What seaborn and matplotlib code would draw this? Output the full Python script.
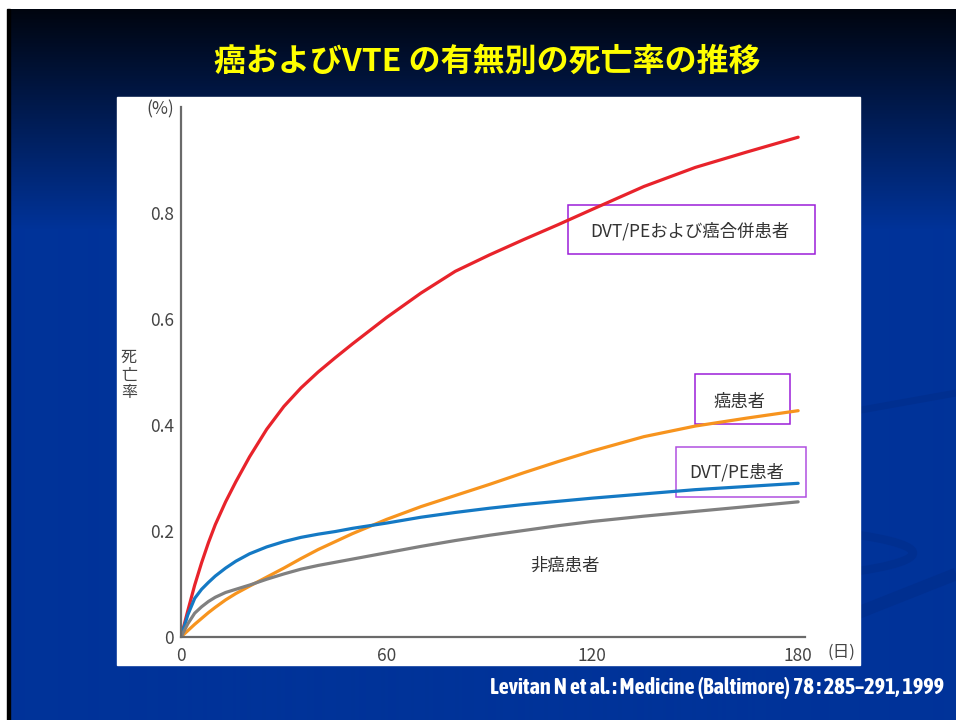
import numpy as np
import pandas as pd
import seaborn as sns
import matplotlib.pyplot as plt
from matplotlib import font_manager
from matplotlib.patches import Rectangle, Ellipse

# days after diagnosis and mortality (%)
days = [0, 2, 4, 6, 8, 10, 13, 16, 20, 25, 30, 35, 40, 45, 50, 60, 70, 80, 90,
        100, 110, 120, 135, 150, 165, 180]
vte_cancer = [0, 0.05, 0.098, 0.14, 0.178, 0.212, 0.255, 0.293, 0.34, 0.392, 0.435,
              0.47, 0.50, 0.527, 0.553, 0.603, 0.649, 0.69, 0.721, 0.75, 0.778,
              0.807, 0.85, 0.886, 0.915, 0.943]
cancer = [0, 0.012, 0.024, 0.035, 0.046, 0.056, 0.07, 0.082, 0.096, 0.113, 0.13,
          0.148, 0.165, 0.18, 0.195, 0.222, 0.246, 0.267, 0.288, 0.31, 0.331,
          0.351, 0.378, 0.398, 0.413, 0.427]
vte = [0, 0.042, 0.073, 0.09, 0.103, 0.115, 0.13, 0.143, 0.157, 0.17, 0.18,
       0.188, 0.194, 0.199, 0.205, 0.215, 0.226, 0.235, 0.243, 0.25, 0.256,
       0.262, 0.27, 0.278, 0.284, 0.29]
no_cancer = [0, 0.025, 0.045, 0.057, 0.067, 0.075, 0.084, 0.09, 0.098, 0.109, 0.119,
             0.128, 0.135, 0.141, 0.147, 0.159, 0.171, 0.182, 0.192, 0.201, 0.21,
             0.218, 0.228, 0.237, 0.246, 0.255]

groups = ["DVT/PEおよび癌合併患者", "癌患者", "DVT/PE患者", "非癌患者"]
colors = {"DVT/PEおよび癌合併患者": "#e8232b", "癌患者": "#f7941e",
          "DVT/PE患者": "#1479c4", "非癌患者": "#808080"}

df = pd.concat([
    pd.DataFrame({"day": days, "rate": v, "group": g})
    for g, v in zip(groups, [vte_cancer, cancer, vte, no_cancer])
])

sns.set_style("white")
plt.rcParams["font.family"] = ["Noto Sans CJK JP", "DejaVu Sans"]

# narrow bold face for the citation line
narrow_bold = sorted({f.name for f in font_manager.fontManager.ttflist
                      if ("Narrow" in f.name or "Condensed" in f.name)
                      and f.weight in ("bold", 700, "heavy", 800)})
if "Liberation Sans Narrow" in narrow_bold:
    cite_font, cite_size = ["Liberation Sans Narrow", "DejaVu Sans"], 15
elif narrow_bold:
    cite_font, cite_size = [narrow_bold[0], "DejaVu Sans"], 16
else:
    cite_font, cite_size = ["Liberation Sans", "DejaVu Sans"], 11.2

W, H = 956, 720
fig = plt.figure(figsize=(W / 100, H / 100), dpi=100, facecolor="white")

# slide background (pixel coordinates)
bg = fig.add_axes([0, 0, 1, 1], zorder=-10)
bg.set_xlim(0, W)
bg.set_ylim(H, 0)
bg.axis("off")
rows = np.arange(9, H)
t = np.clip((rows - 9) / 220.0, 0, 1)[:, None]
top = np.array([0.0, 0.02, 0.06])
bot = np.array([0.0, 0.2, 0.6])
grad = (top * (1 - t) + bot * t)[:, None, :]
bg.imshow(grad, extent=(7, W, H, 9), aspect="auto", interpolation="bilinear")
bg.add_patch(Rectangle((7, 9), 3, H - 9, color="black"))
# faint swooshes on the right
sw = "#002f90"
bg.add_patch(Ellipse((600, 553), 626, 64, fill=False, ec=sw, lw=6))
bg.plot([850, 956], [412, 393], color=sw, lw=5, solid_capstyle="butt")
bg.plot([850, 956], [616, 574], color=sw, lw=9, solid_capstyle="butt")
# white panel
bg.add_patch(Rectangle((117, 97), 743, 568, color="white", zorder=5))

fig.text(487 / W, 1 - 62 / H, "癌およびVTE の有無別の死亡率の推移", color="#ffff00",
         fontsize=23, fontweight="bold", ha="center", va="center")
fig.text(944 / W, 1 - 688 / H, "Levitan N et al. : Medicine (Baltimore) 78 : 285\u2013291, 1999",
         color="white", fontsize=cite_size, fontweight="bold", ha="right", va="center",
         family=cite_font)

ax = fig.add_axes([181 / W, 83 / H, 624 / W, 530 / H])
ax.set_facecolor("none")
sns.lineplot(data=df, x="day", y="rate", hue="group", palette=colors,
             linewidth=2.3, legend=False, ax=ax)

ax.set_xlim(0, 182)
ax.set_ylim(0, 1.0)
ax.set_xticks([0, 60, 120, 180])
ax.set_xticks([20, 40, 80, 100, 140, 160], minor=True)
ax.set_yticks([0, 0.2, 0.4, 0.6, 0.8, 1.0])
ax.set_yticklabels(["0", "0.2", "0.4", "0.6", "0.8", "(%)"])
ax.set_xlabel("")
ax.set_ylabel("")
for s in ["top", "right"]:
    ax.spines[s].set_visible(False)
for s in ["left", "bottom"]:
    ax.spines[s].set_color("#6a6a6a")
    ax.spines[s].set_linewidth(1.6)
ax.tick_params(which="both", direction="in", length=4, width=1.1, color="#6a6a6a",
               labelcolor="#444444", labelsize=12.5)
ax.tick_params(axis="x", which="both", pad=7)
ax.tick_params(axis="y", pad=5)

fig.text(841 / W, 1 - 652 / H, "(日)", color="#444444", fontsize=12, ha="center", va="center")
fig.text(129 / W, 1 - 375 / H, "死\n亡\n率", color="#444444", fontsize=11.5,
         ha="center", va="center", linespacing=1.05)

# labels with boxes
box_kw = dict(fill=False, ec="#9b1ed9", lw=1.1, clip_on=False)
ax.add_patch(Rectangle((112.9, 0.723), 72.1, 0.092, **box_kw))
ax.add_patch(Rectangle((149.9, 0.402), 27.8, 0.094, **box_kw))
ax.add_patch(Rectangle((144.4, 0.265), 38.0, 0.093, fill=False, ec="#b04fe0", lw=1.1, clip_on=False))
txt = dict(color="#333333", fontsize=12.5, ha="center", va="center")
ax.text(148.5, 0.766, "DVT/PEおよび癌合併患者", **txt)
ax.text(163.0, 0.443, "癌患者", **txt)
ax.text(162.2, 0.31, "DVT/PE患者", **txt)
ax.text(112.0, 0.134, "非癌患者", **txt)

fig.savefig("out.png", dpi=100)
